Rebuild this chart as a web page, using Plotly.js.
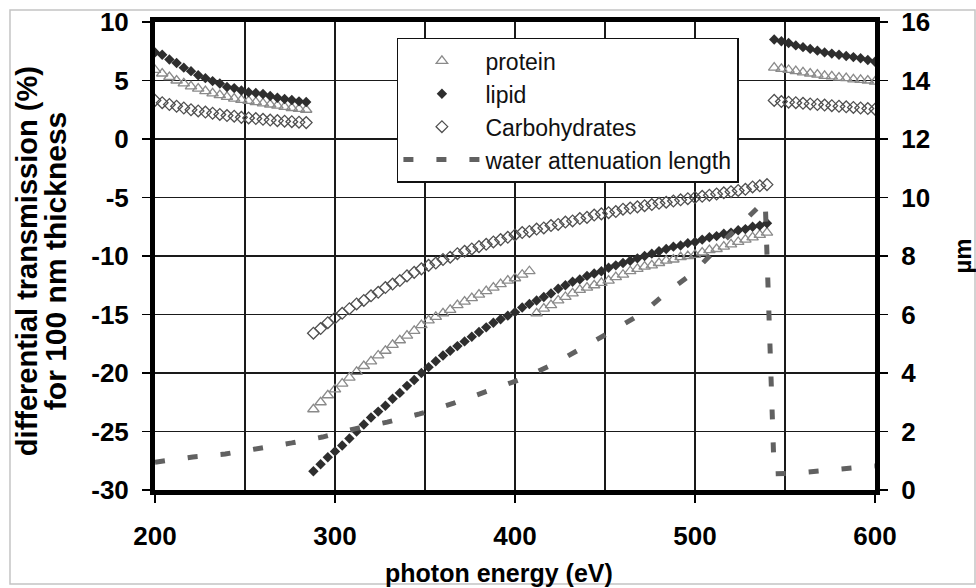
<!DOCTYPE html>
<html><head><meta charset="utf-8">
<script src="https://cdn.plot.ly/plotly-3.0.1.min.js"></script>
<style>html,body{margin:0;padding:0;background:#fff}#chart{width:976px;height:588px}</style>
</head><body><div id="chart"></div>
<script>
// photon energies (eV) of the three segments (C edge at ~285 eV, O edge at ~543 eV)
const energyLow = [200,204,208,212,216,220,224,228,232,236,240,244,248,252,256,260,264,268,272,276,280,284];
const energyMid = [288,292,296,300,304,308,312,316,320,324,328,332,336,340,344,348,352,356,360,364,368,372,376,380,384,388,392,396,400,404,408,412,416,420,424,428,432,436,440,444,448,452,456,460,464,468,472,476,480,484,488,492,496,500,504,508,512,516,520,524,528,532,536,540];
const energyHigh = [544,548,552,556,560,564,568,572,576,580,584,588,592,596,600];

// differential transmission (%) for 100 nm thickness
const proteinLow = [5.9,5.6,5.3,5.0,4.75,4.5,4.3,4.1,3.9,3.75,3.6,3.45,3.35,3.25,3.15,3.05,2.95,2.85,2.75,2.65,2.58,2.5];
const proteinMidBelowN = [-23.1,-22.5,-21.9,-21.4,-20.9,-20.4,-19.9,-19.4,-19.0,-18.5,-18.1,-17.6,-17.2,-16.8,-16.4,-15.9,-15.5,-15.2,-14.9,-14.6,-14.2,-13.9,-13.6,-13.3,-13.0,-12.7,-12.4,-12.1,-11.9,-11.6,-11.3];
const proteinMidAboveN = [-14.9,-14.5,-14.2,-13.8,-13.5,-13.2,-12.9,-12.7,-12.5,-12.3,-12.1,-11.8,-11.6,-11.3,-11.1,-10.9,-10.8,-10.6,-10.4,-10.3,-10.1,-10.0,-9.9,-9.7,-9.5,-9.4,-9.2,-9.0,-8.8,-8.6,-8.4,-8.2,-8.0];
const proteinHigh = [6.1,6.0,5.9,5.8,5.7,5.6,5.5,5.4,5.35,5.25,5.2,5.1,5.05,5.0,4.9];

const lipidLow = [7.4,7.2,6.8,6.5,6.1,5.8,5.45,5.2,4.95,4.75,4.45,4.35,4.15,4.0,3.93,3.85,3.68,3.52,3.42,3.33,3.22,3.16];
const lipidMid = [-28.4,-27.8,-27.2,-26.7,-26.2,-25.6,-25.0,-24.4,-23.8,-23.3,-22.8,-22.2,-21.7,-21.1,-20.6,-20.0,-19.5,-19.0,-18.5,-18.1,-17.7,-17.3,-16.9,-16.5,-16.1,-15.7,-15.4,-15.1,-14.8,-14.4,-14.1,-13.8,-13.5,-13.2,-12.8,-12.5,-12.2,-12.0,-11.7,-11.5,-11.3,-11.0,-10.8,-10.6,-10.4,-10.2,-10.0,-9.8,-9.6,-9.4,-9.2,-9.1,-8.9,-8.8,-8.6,-8.4,-8.3,-8.1,-8.0,-7.8,-7.7,-7.5,-7.4,-7.2];
const lipidHigh = [8.5,8.35,8.2,8.0,7.85,7.7,7.55,7.4,7.3,7.2,7.1,7.0,6.9,6.75,6.6];

const carbLow = [3.3,3.1,2.95,2.8,2.65,2.5,2.4,2.3,2.2,2.1,2.0,1.95,1.85,1.8,1.75,1.68,1.62,1.57,1.52,1.48,1.44,1.4];
const carbMid = [-16.6,-16.2,-15.7,-15.3,-14.9,-14.5,-14.1,-13.8,-13.4,-13.1,-12.7,-12.4,-12.1,-11.7,-11.4,-11.1,-10.8,-10.6,-10.3,-10.1,-9.8,-9.6,-9.4,-9.2,-9.0,-8.8,-8.6,-8.4,-8.2,-8.0,-7.9,-7.7,-7.6,-7.4,-7.3,-7.1,-7.0,-6.8,-6.7,-6.5,-6.4,-6.3,-6.2,-6.0,-5.9,-5.8,-5.7,-5.6,-5.5,-5.4,-5.3,-5.2,-5.1,-5.0,-4.9,-4.8,-4.7,-4.6,-4.5,-4.4,-4.3,-4.1,-4.0,-3.9];
const carbHigh = [3.3,3.2,3.15,3.1,3.05,3.0,2.95,2.9,2.85,2.8,2.75,2.7,2.65,2.6,2.55];

// water attenuation length (µm)
const waterEnergy = [200,221,239,257,276,293,311,329,347,366,384,402,421,437,454,471,484,499,519,539,544,556,573,592,600];
const waterLength = [0.95,1.13,1.23,1.40,1.61,1.81,2.09,2.32,2.60,2.97,3.35,3.76,4.29,4.87,5.44,6.05,6.74,7.42,8.7,9.9,0.55,0.58,0.68,0.79,0.82];

// axis ticks
const xTickVals = [200,300,400,500,600];
const xTickText = ['200','300','400','500','600'];
const xMinorGrid = [250,350,450,550];
const yTickVals = [-30,-25,-20,-15,-10,-5,0,5,10];
const yTickText = ['-30','-25','-20','-15','-10','-5','0','5','10'];
const y2TickVals = [0,2,4,6,8,10,12,14,16];
const y2TickText = ['0','2','4','6','8','10','12','14','16'];

const FONT = 'Liberation Sans, Arial, sans-serif';
const allEnergy = energyLow.concat(energyMid, energyHigh);

const traces = [
  {name:'protein', legendgroup:'a', x: allEnergy, y: proteinLow.concat(proteinMidBelowN, proteinMidAboveN, proteinHigh),
   type:'scatter', mode:'markers', marker:{symbol:'triangle-up-open', size:10, color:'#8a8a8a', line:{width:1.3, color:'#8a8a8a'}}},
  {name:'lipid', legendgroup:'b', x: allEnergy, y: lipidLow.concat(lipidMid, lipidHigh),
   type:'scatter', mode:'markers', marker:{symbol:'diamond', size:8, color:'#2e2e2e'}},
  {name:'Carbohydrates', legendgroup:'c', x: allEnergy, y: carbLow.concat(carbMid, carbHigh),
   type:'scatter', mode:'markers', marker:{symbol:'diamond-open', size:9, color:'#505050', line:{width:1.3, color:'#505050'}}},
  {name:'water attenuation length', legendgroup:'d', x: waterEnergy, y: waterLength, yaxis:'y2',
   type:'scatter', mode:'lines', line:{color:'#616161', width:5, dash:'10px,23px'}}
];

const axisCommon = {
  showline:true, linecolor:'#000', linewidth:5, zeroline:false,
  ticks:'outside', ticklen:8, tickwidth:1.5, tickcolor:'#000',
  tickfont:{family:FONT, size:26, color:'#000', weight:700}
};

const layout = {
  width:976, height:588,
  margin:{l:155, r:101, t:22, b:98, pad:0},
  paper_bgcolor:'#fff', plot_bgcolor:'#fff',
  showlegend:true,
  legend:{x:0.336, y:0.966, xanchor:'left', yanchor:'top', bgcolor:'#fff', bordercolor:'#111', borderwidth:1.5,
          font:{family:FONT, size:23, color:'#111'}, itemwidth:77, tracegroupgap:5, traceorder:'normal'},
  xaxis: Object.assign({}, axisCommon, {
    range:[200,600], tickmode:'array', tickvals:xTickVals, ticktext:xTickText, mirror:true,
    showgrid:true, gridcolor:'#1a1a1a', gridwidth:1.5, ticklabelstandoff:11,
    minor:{tickmode:'array', tickvals:xMinorGrid, showgrid:true, gridcolor:'#1a1a1a', gridwidth:1.5, ticks:''}
  }),
  yaxis: Object.assign({}, axisCommon, {
    range:[-30,10], tickmode:'array', tickvals:yTickVals, ticktext:yTickText, mirror:true,
    showgrid:true, gridcolor:'#1a1a1a', gridwidth:1.5, ticklabelstandoff:8
  }),
  yaxis2: Object.assign({}, axisCommon, {
    range:[0,16], tickmode:'array', tickvals:y2TickVals, ticktext:y2TickText, overlaying:'y', side:'right',
    showgrid:false, ticklabelstandoff:8,
    title:{text:'µm', font:{family:FONT, size:24, color:'#000', weight:700}, standoff:28}
  }),
  annotations:[
    {text:'differential transmission (%)', xref:'paper', yref:'paper', x:-0.1778, y:0.489, xanchor:'center', yanchor:'middle',
     textangle:-90, showarrow:false, font:{family:FONT, size:29, color:'#000', weight:700}},
    {text:'for 100 nm thickness', xref:'paper', yref:'paper', x:-0.1389, y:0.489, xanchor:'center', yanchor:'middle',
     textangle:-90, showarrow:false, font:{family:FONT, size:30, color:'#000', weight:700}},
    {text:'photon energy (eV)', xref:'paper', yref:'paper', x:0.478, y:-0.178, xanchor:'center', yanchor:'middle',
     showarrow:false, font:{family:FONT, size:25, color:'#000', weight:700}}
  ],
  shapes:[
    {type:'rect', xref:'paper', yref:'paper', x0:-0.2014, x1:1.1389, y0:-0.2009, y1:1.0256,
     line:{color:'#c4c4c4', width:1.5}, fillcolor:'rgba(0,0,0,0)', layer:'below'}
  ]
};

Plotly.newPlot('chart', traces, layout, {staticPlot:true, displayModeBar:false});
</script>
</body></html>
